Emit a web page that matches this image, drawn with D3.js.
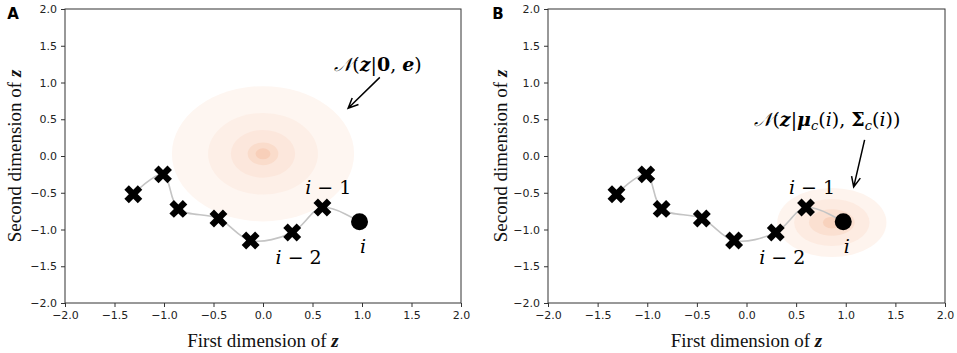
<!DOCTYPE html>
<html>
<head>
<meta charset="utf-8">
<script src="https://cdn.jsdelivr.net/npm/d3@7"></script>
<style>
  body { margin: 0; background: #fff; }
  svg { display: block; }
</style>
</head>
<body>
<div id="chart"></div>
<script>
// latent trajectory data (same in both panels)
var pointX = [-1.31, -1.01, -0.855, -0.45, -0.125, 0.295, 0.60];
var pointY = [-0.52, -0.25, -0.72, -0.85, -1.15, -1.04, -0.70];
var currentX = 0.975;
var currentY = -0.895;

var tickValues = [-2.0, -1.5, -1.0, -0.5, 0.0, 0.5, 1.0, 1.5, 2.0];

// prior gaussian (panel A): circular contour radii, outer -> inner
var priorCenter = [0.0, 0.03];
var priorRadii = [0.92, 0.555, 0.325, 0.155, 0.075];
var priorColors = ['#fef6f1', '#fdefe7', '#fce7dc', '#fadccb', '#f8cfb9'];

// conditional gaussian (panel B): ellipse half axes, outer -> inner
var condCenter = [0.86, -0.905];
var condRx = [0.55, 0.38, 0.23, 0.09];
var condRy = [0.47, 0.32, 0.18, 0.08];
var condColors = ['#fef4ee', '#fdebe1', '#fbe0d1', '#f8d2bd'];

// point labels [text, x, y]
var labelTexts = ['i \u2212 1', 'i \u2212 2', 'i'];
var labelX = [0.66, 0.36, 1.01];
var labelY = [-0.52, -1.47, -1.32];

var width = 957, height = 353;
var svg = d3.select('#chart').append('svg').attr('width', width).attr('height', height);

function drawPanel(opts) {
    var x = d3.scaleLinear().domain([-2, 2]).range([opts.left, opts.right]);
    var y = d3.scaleLinear().domain([-2, 2]).range([opts.bottom, opts.top]);
    var g = svg.append('g');

    // gaussian contours
    opts.drawGaussian(g, x, y);

    // trajectory curve
    var pts = pointX.map(function (d, i) { return [d, pointY[i]]; });
    pts.push([currentX, currentY]);
    var line = d3.line()
        .x(function (d) { return x(d[0]); })
        .y(function (d) { return y(d[1]); })
        .curve(d3.curveCatmullRom.alpha(0.5));
    g.append('path')
        .attr('d', line(pts))
        .attr('fill', 'none')
        .attr('stroke', '#c4c4c4')
        .attr('stroke-width', 1.6);

    // X markers
    var cross = d3.symbol().type(d3.symbolCross).size(200);
    g.selectAll('.mark')
        .data(pointX)
        .enter()
        .append('path')
        .attr('d', cross)
        .attr('transform', function (d, i) {
            return 'translate(' + x(d) + ',' + y(pointY[i]) + ') rotate(45)';
        })
        .attr('fill', '#000');

    // current point
    g.append('circle')
        .attr('cx', x(currentX))
        .attr('cy', y(currentY))
        .attr('r', 8.5)
        .attr('fill', '#000');

    // point labels
    g.selectAll('.lbl')
        .data(labelTexts)
        .enter()
        .append('text')
        .attr('x', function (d, i) { return x(labelX[i]); })
        .attr('y', function (d, i) { return y(labelY[i]); })
        .attr('text-anchor', 'middle')
        .attr('font-family', 'DejaVu Serif')
        .attr('font-size', '19px')
        .html(function (d) {
            return '<tspan font-style="italic">i</tspan>' + d.slice(1);
        });

    // annotation
    var a = opts.annot;
    g.append('text')
        .attr('x', x(a.tx))
        .attr('y', y(a.ty))
        .attr('font-family', 'DejaVu Serif')
        .attr('font-size', '19px')
        .html(a.html);
    var x0 = x(a.ax0), y0 = y(a.ay0), x1 = x(a.ax1), y1 = y(a.ay1);
    var ang = Math.atan2(y1 - y0, x1 - x0);
    var hl = 11, spread = 0.42;
    var arrow = 'M' + x0 + ',' + y0 + 'L' + x1 + ',' + y1 +
        'M' + (x1 - hl * Math.cos(ang - spread)) + ',' + (y1 - hl * Math.sin(ang - spread)) +
        'L' + x1 + ',' + y1 +
        'L' + (x1 - hl * Math.cos(ang + spread)) + ',' + (y1 - hl * Math.sin(ang + spread));
    g.append('path')
        .attr('d', arrow)
        .attr('fill', 'none')
        .attr('stroke', '#000')
        .attr('stroke-width', 1.5);

    // axes
    var fmt = d3.format('.1f');
    var xAxis = g.append('g')
        .attr('transform', 'translate(0,' + opts.bottom + ')')
        .call(d3.axisBottom(x).tickValues(tickValues).tickFormat(fmt).tickSize(4).tickPadding(4));
    var yAxis = g.append('g')
        .attr('transform', 'translate(' + opts.left + ',0)')
        .call(d3.axisLeft(y).tickValues(tickValues).tickFormat(fmt).tickSize(4).tickPadding(4));
    [xAxis, yAxis].forEach(function (ax) {
        ax.select('.domain').remove();
        ax.selectAll('line').attr('stroke', '#333');
        ax.selectAll('text')
            .attr('font-family', 'DejaVu Sans')
            .attr('font-size', '11px')
            .attr('fill', '#222');
    });

    // frame
    g.append('rect')
        .attr('x', opts.left)
        .attr('y', opts.top)
        .attr('width', opts.right - opts.left)
        .attr('height', opts.bottom - opts.top)
        .attr('fill', 'none')
        .attr('stroke', '#333')
        .attr('stroke-width', 1);

    // axis titles
    var mid = (opts.left + opts.right) / 2;
    g.append('text')
        .attr('x', mid)
        .attr('y', 347)
        .attr('text-anchor', 'middle')
        .attr('font-family', 'Liberation Serif')
        .attr('font-size', '19px')
        .attr('fill', '#111')
        .html('First dimension of <tspan font-weight="bold" font-style="italic">z</tspan>');
    g.append('text')
        .attr('transform', 'translate(' + (opts.left - opts.ylabOffset) + ',' + ((opts.top + opts.bottom) / 2) + ') rotate(-90)')
        .attr('text-anchor', 'middle')
        .attr('font-family', 'Liberation Serif')
        .attr('font-size', '19px')
        .attr('fill', '#111')
        .html('Second dimension of <tspan font-weight="bold" font-style="italic">z</tspan>');

    // panel letter
    g.append('text')
        .attr('x', opts.letterX)
        .attr('y', 19)
        .attr('text-anchor', 'middle')
        .attr('font-family', 'DejaVu Sans')
        .attr('font-weight', 'bold')
        .attr('font-size', '15px')
        .text(opts.letter);
}

drawPanel({
    left: 65, right: 461, top: 9, bottom: 303,
    letter: 'A', letterX: 13, ylabOffset: 44,
    drawGaussian: function (g, x, y) {
        g.selectAll('.c')
            .data(priorRadii)
            .enter()
            .append('ellipse')
            .attr('cx', x(priorCenter[0]))
            .attr('cy', y(priorCenter[1]))
            .attr('rx', function (r) { return x(r) - x(0); })
            .attr('ry', function (r) { return y(0) - y(r); })
            .attr('fill', function (r, i) { return priorColors[i]; });
    },
    annot: {
        tx: 0.72, ty: 1.16,
        html: '<tspan font-style="italic">\uD835\uDCA9</tspan>(<tspan font-weight="bold" font-style="italic">z</tspan>|<tspan font-weight="bold">0</tspan>, <tspan font-weight="bold" font-style="italic">e</tspan>)',
        ax0: 1.18, ay0: 1.07, ax1: 0.86, ay1: 0.65
    }
});

drawPanel({
    left: 548, right: 945, top: 9, bottom: 303,
    letter: 'B', letterX: 498, ylabOffset: 41,
    drawGaussian: function (g, x, y) {
        g.selectAll('.c')
            .data(condRx)
            .enter()
            .append('ellipse')
            .attr('cx', x(condCenter[0]))
            .attr('cy', y(condCenter[1]))
            .attr('rx', function (r) { return x(r) - x(0); })
            .attr('ry', function (r, i) { return y(0) - y(condRy[i]); })
            .attr('fill', function (r, i) { return condColors[i]; });
    },
    annot: {
        tx: 0.08, ty: 0.41,
        html: '<tspan font-style="italic">\uD835\uDCA9</tspan>(<tspan font-weight="bold" font-style="italic">z</tspan>|<tspan font-weight="bold" font-style="italic">\u03BC</tspan><tspan font-style="italic" font-size="13px" dy="4">c</tspan><tspan dy="-4">(<tspan font-style="italic">i</tspan>), </tspan><tspan font-weight="bold">\u03A3</tspan><tspan font-style="italic" font-size="13px" dy="4">c</tspan><tspan dy="-4">(<tspan font-style="italic">i</tspan>))</tspan>',
        ax0: 1.19, ay0: 0.22, ax1: 1.08, ay1: -0.42
    }
});
</script>
</body>
</html>
